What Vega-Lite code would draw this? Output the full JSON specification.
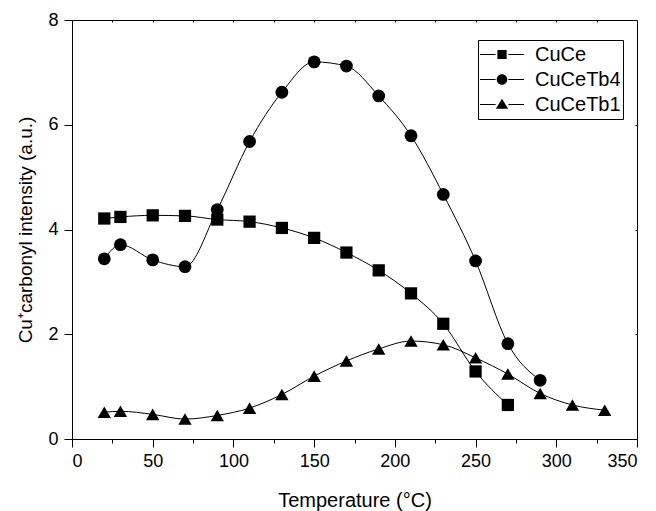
{
  "$schema": "https://vega.github.io/schema/vega-lite/v6.json",
  "width": 565,
  "height": 419,
  "autosize": {"type": "none"},
  "padding": {"left": 72, "top": 20, "right": 19, "bottom": 72},
  "config": {
    "view": {"stroke": "black", "strokeWidth": 1},
    "font": "Liberation Sans",
    "axis": {
      "domain": false,
      "grid": false,
      "tickColor": "black",
      "tickWidth": 1,
      "labelColor": "black",
      "titleColor": "black",
      "labelFont": "Liberation Sans",
      "titleFont": "Liberation Sans",
      "labelFontSize": 18,
      "titleFontSize": 19,
      "titleFontWeight": "normal"
    }
  },
  "data": {
    "values": [
      {"series": "CuCe", "T": 20, "I": 4.21},
      {"series": "CuCe", "T": 30, "I": 4.24},
      {"series": "CuCe", "T": 50, "I": 4.27},
      {"series": "CuCe", "T": 70, "I": 4.26},
      {"series": "CuCe", "T": 90, "I": 4.19},
      {"series": "CuCe", "T": 110, "I": 4.15},
      {"series": "CuCe", "T": 130, "I": 4.03},
      {"series": "CuCe", "T": 150, "I": 3.84},
      {"series": "CuCe", "T": 170, "I": 3.56},
      {"series": "CuCe", "T": 190, "I": 3.22},
      {"series": "CuCe", "T": 210, "I": 2.78},
      {"series": "CuCe", "T": 230, "I": 2.2},
      {"series": "CuCe", "T": 250, "I": 1.29},
      {"series": "CuCe", "T": 270, "I": 0.65},
      {"series": "CuCeTb4", "T": 20, "I": 3.44},
      {"series": "CuCeTb4", "T": 30, "I": 3.71},
      {"series": "CuCeTb4", "T": 50, "I": 3.42},
      {"series": "CuCeTb4", "T": 70, "I": 3.29},
      {"series": "CuCeTb4", "T": 90, "I": 4.38},
      {"series": "CuCeTb4", "T": 110, "I": 5.68},
      {"series": "CuCeTb4", "T": 130, "I": 6.62},
      {"series": "CuCeTb4", "T": 150, "I": 7.2},
      {"series": "CuCeTb4", "T": 170, "I": 7.12},
      {"series": "CuCeTb4", "T": 190, "I": 6.55},
      {"series": "CuCeTb4", "T": 210, "I": 5.79},
      {"series": "CuCeTb4", "T": 230, "I": 4.67},
      {"series": "CuCeTb4", "T": 250, "I": 3.4},
      {"series": "CuCeTb4", "T": 270, "I": 1.82},
      {"series": "CuCeTb4", "T": 290, "I": 1.12},
      {"series": "CuCeTb1", "T": 20, "I": 0.51},
      {"series": "CuCeTb1", "T": 30, "I": 0.53},
      {"series": "CuCeTb1", "T": 50, "I": 0.47},
      {"series": "CuCeTb1", "T": 70, "I": 0.38},
      {"series": "CuCeTb1", "T": 90, "I": 0.45},
      {"series": "CuCeTb1", "T": 110, "I": 0.59},
      {"series": "CuCeTb1", "T": 130, "I": 0.85},
      {"series": "CuCeTb1", "T": 150, "I": 1.2},
      {"series": "CuCeTb1", "T": 170, "I": 1.49},
      {"series": "CuCeTb1", "T": 190, "I": 1.72},
      {"series": "CuCeTb1", "T": 210, "I": 1.87},
      {"series": "CuCeTb1", "T": 230, "I": 1.8},
      {"series": "CuCeTb1", "T": 250, "I": 1.55},
      {"series": "CuCeTb1", "T": 270, "I": 1.24},
      {"series": "CuCeTb1", "T": 290, "I": 0.87},
      {"series": "CuCeTb1", "T": 310, "I": 0.65},
      {"series": "CuCeTb1", "T": 330, "I": 0.55}
    ]
  },
  "resolve": {
    "axis": {"x": "independent", "y": "independent"},
    "scale": {"shape": "independent", "size": "independent"}
  },
  "layer": [
    {
      "mark": {"type": "line", "interpolate": "monotone", "color": "black", "strokeWidth": 1},
      "encoding": {
        "x": {
          "field": "T", "type": "quantitative",
          "scale": {"domain": [0, 350], "nice": false, "zero": false},
          "axis": {"orient": "bottom", "values": [0, 50, 100, 150, 200, 250, 300, 350], "tickSize": 8, "labelPadding": 5, "title": "Temperature (°C)", "titleFontSize": 20, "titlePadding": 20}
        },
        "y": {
          "field": "I", "type": "quantitative",
          "scale": {"domain": [0, 8], "nice": false, "zero": false},
          "axis": {"orient": "left", "values": [0, 2, 4, 6, 8], "tickSize": 8, "labelPadding": 6, "title": "Cu⁺carbonyl intensity (a.u.)", "titlePadding": 12}
        },
        "detail": {"field": "series", "type": "nominal"}
      }
    },
    {
      "mark": {"type": "point", "filled": true, "color": "black", "opacity": 1},
      "encoding": {
        "x": {
          "field": "T", "type": "quantitative",
          "axis": {"orient": "top", "values": [25, 50, 75, 100, 125, 150, 175, 200, 225, 250, 275, 300, 325], "tickSize": -2, "labels": false, "title": null}
        },
        "y": {
          "field": "I", "type": "quantitative",
          "axis": {"orient": "right", "values": [2, 4, 6], "tickSize": -2, "labels": false, "title": null}
        },
        "shape": {
          "field": "series", "type": "nominal",
          "scale": {"domain": ["CuCe", "CuCeTb4", "CuCeTb1"], "range": ["square", "circle", "triangle-up"]},
          "legend": null
        },
        "size": {
          "field": "series", "type": "nominal",
          "scale": {"domain": ["CuCe", "CuCeTb4", "CuCeTb1"], "range": [150, 178, 245]},
          "legend": null
        }
      }
    },
    {
      "mark": {"type": "point", "filled": true, "color": "black", "opacity": 0},
      "encoding": {
        "x": {
          "field": "T", "type": "quantitative",
          "axis": {"orient": "bottom", "values": [25, 75, 125, 175, 225, 275, 325], "tickSize": 4, "labels": false, "title": null}
        },
        "y": {"field": "I", "type": "quantitative", "axis": null},
        "shape": {
          "field": "series", "type": "nominal",
          "scale": {
            "domain": ["CuCe", "CuCeTb4", "CuCeTb1"],
            "range": [
              "M-1,-0.025H-0.29V0.025H-1ZM0.29,-0.025H1V0.025H0.29ZM-0.21,-0.21H0.21V0.21H-0.21Z",
              "M-1,-0.025H-0.29V0.025H-1ZM0.29,-0.025H1V0.025H0.29ZM-0.24,0A0.24,0.24,0,1,0,0.24,0A0.24,0.24,0,1,0,-0.24,0Z",
              "M-1,-0.025H-0.29V0.025H-1ZM0.29,-0.025H1V0.025H0.29ZM-0.28,0.19L0,-0.26L0.28,0.19Z"
            ]
          },
          "legend": {
            "orient": "none",
            "legendX": 406,
            "legendY": 20,
            "title": null,
            "strokeColor": "black",
            "padding": 2,
            "clipHeight": 25,
            "rowPadding": 0,
            "symbolSize": 1936,
            "symbolFillColor": "black",
            "symbolStrokeColor": "transparent",
            "symbolStrokeWidth": 0,
            "symbolOpacity": 1,
            "symbolOffset": 0,
            "labelFont": "Liberation Sans",
            "labelFontSize": 20,
            "labelColor": "black",
            "labelOffset": 11
          }
        }
      }
    }
  ]
}
